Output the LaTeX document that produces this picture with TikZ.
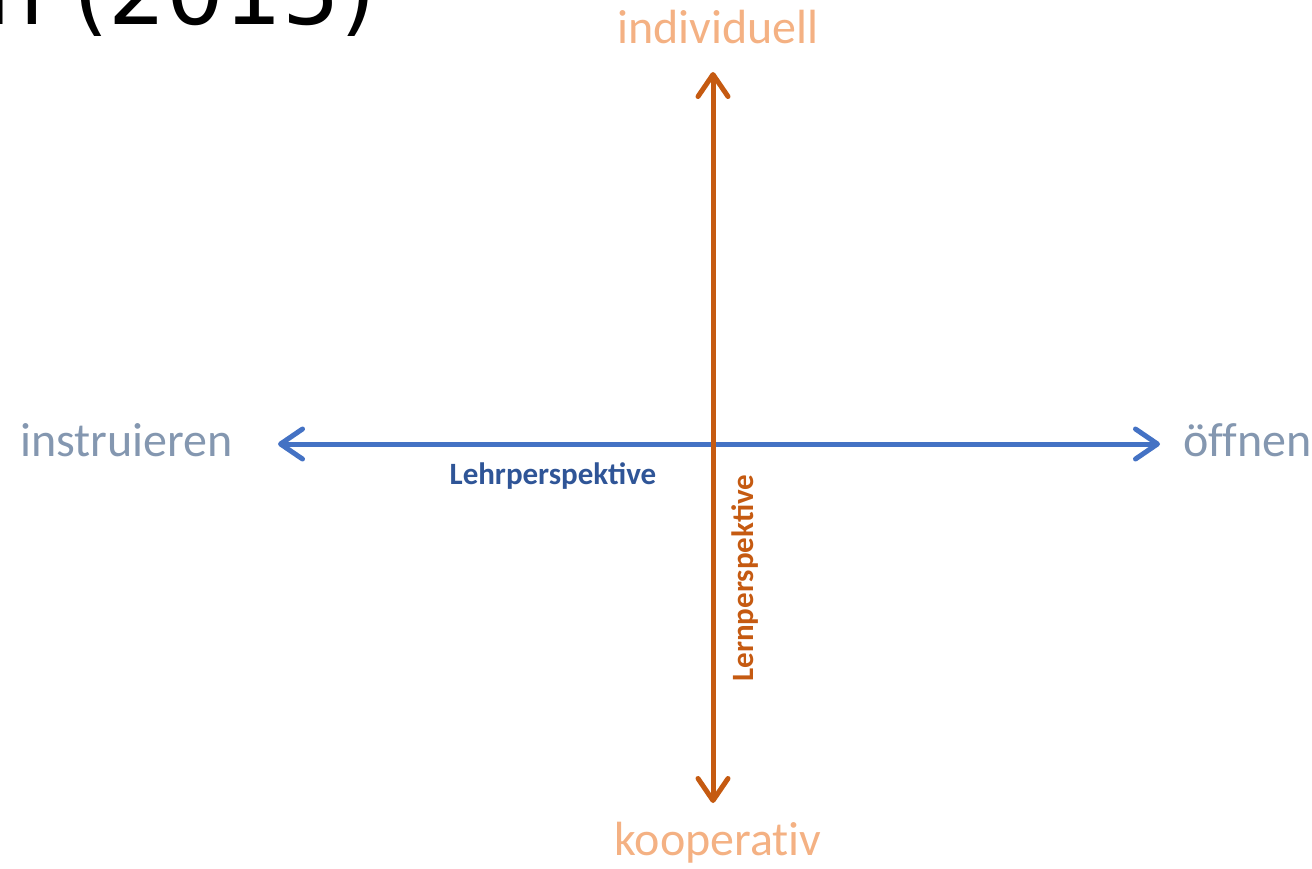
\documentclass[tikz,border=0pt]{standalone}
\usepackage{fontspec}
\setmainfont{Carlito}
\newfontfamily\polefont[Ligatures=NoCommon]{Carlito}
\newfontfamily\titlefont{DejaVu Sans}
\usetikzlibrary{arrows.meta}
\definecolor{axblue}{HTML}{4472C4}
\definecolor{axorange}{HTML}{C55A11}
\definecolor{lblblue}{HTML}{2F5597}
\definecolor{lblorange}{HTML}{F4B183}
\definecolor{lblgrey}{HTML}{8497B0}
\begin{document}
\begin{tikzpicture}[x=1pt,y=-1pt,
  axis/.style={line width=5pt, {Straight Barb[length=22pt,width=30pt,line cap=round,line join=round]}-{Straight Barb[length=22pt,width=30pt,line cap=round,line join=round]}},
  pole/.style={inner sep=0pt, font=\fontsize{48}{56}\selectfont\polefont},
  persp/.style={inner sep=0pt, font=\fontsize{31}{36}\selectfont\bfseries}]
\useasboundingbox (0,0) rectangle (1312,868);
\clip (0,0) rectangle (1312,868);
\node[inner sep=0pt, anchor=base east, font=\fontsize{91}{100}\selectfont\titlefont] (title) at (376,24) {n (2015)};
% poles
\node[pole, text=lblorange] (ind) at (718,27) {individuell};
\node[pole, text=lblorange] (koop) at (718,843) {kooperativ};
\node[pole, text=lblgrey, anchor=west] (instr) at (20,440) {instruieren};
\node[pole, text=lblgrey, anchor=west] (off) at (1183,440) {öffnen};
% arrow end points
\coordinate (L) at (278,444);
\coordinate (R) at (1160,444);
\coordinate (T) at (713,72);
\coordinate (B) at (713,803);
\draw[axis, axblue] (L) -- (R);
\draw[axis, axorange] (T) -- (B);
% labels
\node[persp, text=lblblue] (lehr) at (553,476) {Lehrperspektive};
\node[persp, text=axorange, rotate=90] (lern) at (745,578) {Lernperspektive};
\end{tikzpicture}
\end{document}
